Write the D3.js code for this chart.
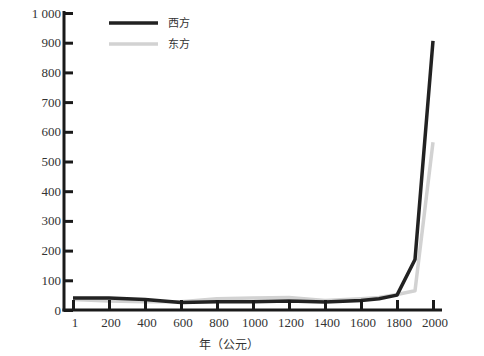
<!DOCTYPE html>
<html>
<head>
<meta charset="utf-8">
<script src="https://cdn.jsdelivr.net/npm/d3@7"></script>
<style>
  body { margin: 0; background: #fff; }
  svg { display: block; }
</style>
</head>
<body>
<div id="chart"></div>
<script>
// data
const years = [1, 200, 400, 600, 800, 1000, 1200, 1400, 1600, 1700, 1800, 1900, 2000];
const west = [40, 40, 35, 25, 28, 28, 30, 27, 32, 38, 50, 170, 906];
const east = [35, 30, 28, 28, 38, 40, 42, 32, 38, 42, 52, 65, 565];
const xTicks = [1, 200, 400, 600, 800, 1000, 1200, 1400, 1600, 1800, 2000];
const yTicks = [0, 100, 200, 300, 400, 500, 600, 700, 800, 900, 1000];
const seriesNames = ["西方", "东方"];
const seriesColors = ["#222", "#d2d2d2"];

const width = 484, height = 356;
const svg = d3.select("#chart").append("svg")
  .attr("width", width)
  .attr("height", height);

const x = d3.scaleLinear().domain([0, 2000]).range([73, 433]);
const y = d3.scaleLinear().domain([0, 1000]).range([310, 13]);

const numFont = "'Liberation Serif', 'DejaVu Serif', serif";
const cjkFont = "'Noto Sans CJK SC', sans-serif";

// lines (east underneath, west on top)
const line = d3.line()
  .x((d, i) => x(years[i] === 1 ? 0 : years[i]))
  .y(d => y(d));

[[east, 1], [west, 0]].forEach(([vals, k]) => {
  svg.append("path")
    .datum(vals)
    .attr("fill", "none")
    .attr("stroke", seriesColors[k])
    .attr("stroke-width", 3.5)
    .attr("stroke-linejoin", "round")
    .attr("d", line);
});

// y axis
const yAxis = svg.append("g")
  .attr("transform", "translate(64,0)")
  .call(d3.axisRight(y).tickValues(yTicks).tickSize(9).tickFormat(""));
yAxis.select(".domain").attr("stroke", "#1a1a1a").attr("stroke-width", 3)
  .attr("d", `M0,${y(1000) - 2}V${y(0) + 1.5}`);
yAxis.selectAll(".tick line").attr("stroke", "#1a1a1a").attr("stroke-width", 3);

svg.append("g").selectAll("text")
  .data(yTicks)
  .join("text")
  .attr("x", 61)
  .attr("y", d => y(d))
  .attr("dy", "0.35em")
  .attr("text-anchor", "end")
  .attr("font-family", numFont)
  .attr("font-size", 13)
  .attr("fill", "#333")
  .text(d => d === 1000 ? "1 000" : d);

// x axis
const xAxis = svg.append("g")
  .attr("transform", `translate(0,${y(0)})`)
  .call(d3.axisTop(x).tickValues(xTicks.map(v => v === 1 ? 0 : v)).tickSize(10).tickFormat(""));
xAxis.select(".domain").attr("stroke", "#1a1a1a").attr("stroke-width", 3)
  .attr("d", "M62.5,0H442");
xAxis.selectAll(".tick line").attr("stroke", "#1a1a1a").attr("stroke-width", 3);

svg.append("g").selectAll("text")
  .data(xTicks)
  .join("text")
  .attr("x", d => x(d === 1 ? 0 : d) + 2)
  .attr("y", 327)
  .attr("text-anchor", "middle")
  .attr("font-family", numFont)
  .attr("font-size", 13)
  .attr("fill", "#333")
  .text(d => d);

svg.append("text")
  .attr("x", 229)
  .attr("y", 349)
  .attr("text-anchor", "middle")
  .attr("font-family", cjkFont)
  .attr("font-size", 12)
  .attr("fill", "#333")
  .text("年（公元）");

// legend
const legend = svg.append("g").selectAll("g")
  .data(seriesNames)
  .join("g")
  .attr("transform", (d, i) => `translate(109,${23 + i * 21})`);
legend.append("line")
  .attr("x1", 0).attr("x2", 49)
  .attr("stroke", (d, i) => seriesColors[i])
  .attr("stroke-width", 3.5);
legend.append("text")
  .attr("x", 59)
  .attr("dy", "0.35em")
  .attr("font-family", cjkFont)
  .attr("font-size", 11)
  .attr("fill", "#333")
  .text(d => d);
</script>
</body>
</html>
